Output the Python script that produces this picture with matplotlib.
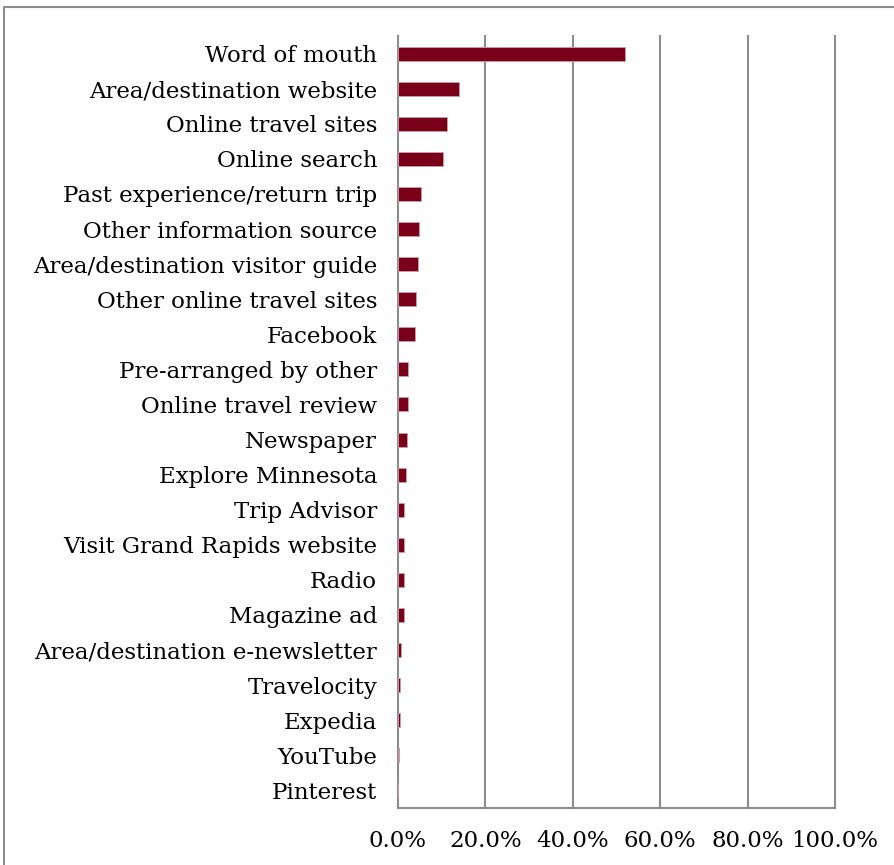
import matplotlib.pyplot as plt
from matplotlib.patches import Rectangle

sources = [
    'Word of mouth', 'Area/destination website', 'Online travel sites',
    'Online search', 'Past experience/return trip', 'Other information source',
    'Area/destination visitor guide', 'Other online travel sites', 'Facebook',
    'Pre-arranged by other', 'Online travel review', 'Newspaper',
    'Explore Minnesota', 'Trip Advisor', 'Visit Grand Rapids website', 'Radio',
    'Magazine ad', 'Area/destination e-newsletter', 'Travelocity', 'Expedia',
    'YouTube', 'Pinterest',
]
shares = [52.0, 13.9, 11.2, 10.4, 5.2, 4.9, 4.5, 4.1, 3.8, 2.4, 2.4, 2.0,
          1.8, 1.4, 1.4, 1.4, 1.4, 0.8, 0.4, 0.4, 0.15, 0.0]
x_ticks = [0, 20, 40, 60, 80, 100]
x_labels = ['0.0%', '20.0%', '40.0%', '60.0%', '80.0%', '100.0%']

plt.rcParams['font.family'] = ['DejaVu Serif']
grey = '#8c8c8c'

fig = plt.figure(figsize=(8.95, 8.65), dpi=100)
fig.patches.append(Rectangle((4 / 895, -0.1), 1.2, 1.1 - 7 / 865,
                             transform=fig.transFigure, fill=False,
                             edgecolor=grey, linewidth=1.5))
ax = fig.add_axes([398 / 895, 1 - 808 / 865, 437 / 895, 772 / 865])

ypos = range(len(sources))
ax.barh(ypos, shares, height=0.4, color='#7a0019', edgecolor='#c9a0a8',
        linewidth=0.6, zorder=3)
ax.set_ylim(len(sources) - 0.5, -0.5)
ax.set_xlim(0, 100)
ax.set_yticks(list(ypos))
ax.set_yticklabels(sources, fontsize=16.5)
ax.set_xticks(x_ticks)
ax.set_xticklabels(x_labels, fontsize=16.5)
ax.tick_params(axis='y', length=0, pad=15)
ax.tick_params(axis='x', length=0, pad=16)

# gridlines drawn by hand so the 100% line isn't clipped at the edge
for t in x_ticks[1:]:
    ax.axvline(t, color=grey, linewidth=1.5, zorder=0, clip_on=False)
for side in ['top', 'right']:
    ax.spines[side].set_visible(False)
for side in ['left', 'bottom']:
    ax.spines[side].set_color(grey)
    ax.spines[side].set_linewidth(1.5)

fig.savefig('out.png', dpi=100)
